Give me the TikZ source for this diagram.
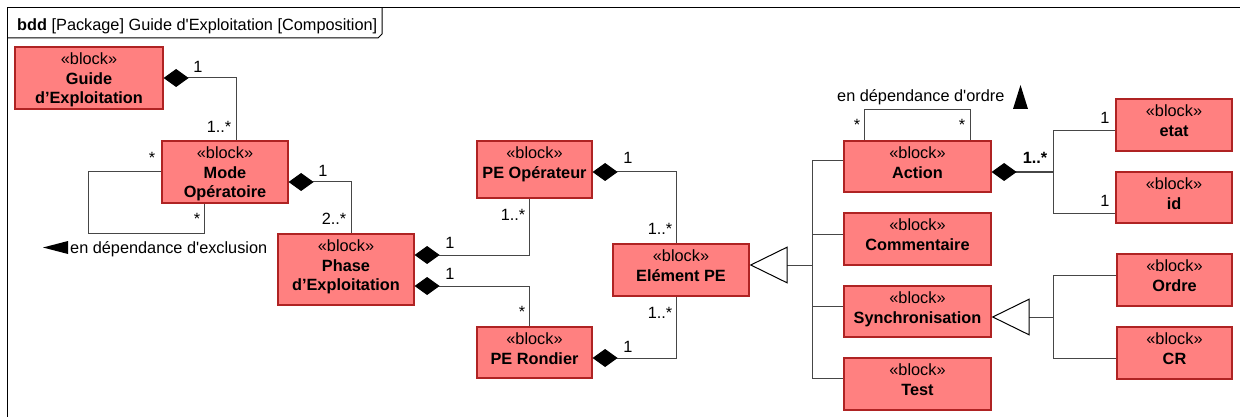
\documentclass[tikz,border=0pt]{standalone}
\usepackage{fontspec}
\newfontfamily\arialf{Liberation Sans}
\usetikzlibrary{arrows.meta,calc}
\definecolor{blkfill}{RGB}{255,128,128}
\definecolor{blkdraw}{RGB}{175,35,35}
\definecolor{connc}{RGB}{70,70,70}
\begin{document}
\begin{tikzpicture}[x=1pt,y=-1pt,
  every node/.style={font={\arialf\fontsize{16.3}{19.5}\selectfont}},
  blk/.style={draw=blkdraw, fill=blkfill, line width=1.2pt, inner sep=0pt},
  blktxt/.style={anchor=north, align=center, inner sep=0pt, yshift=-6.5pt},
  lab/.style={anchor=base, inner sep=0pt},
  conn/.style={draw=connc, line width=1pt},
  comp/.style={conn, {Diamond[length=25pt,width=18pt,color=black]}-},
  gen/.style={conn, -{Triangle[length=38pt,width=37pt,color=black,fill=white,line width=1pt]}},
]
\useasboundingbox (0,0) rectangle (1240,417);
% frame
\draw[line width=1pt] (7,417) -- (7,8) -- (1240,8);
\draw[line width=1pt] (7,38) -- (378,38) -- (382,34) -- (382,8);
\node[anchor=base west, inner sep=0pt] (title) at (17,31) {\textbf{bdd} [Package] Guide d'Exploitation [Composition]};

% blocks
\node[blk, minimum width=148, minimum height=62] (guide) at (89,78) {};
\node[blktxt] (guideT) at (guide.north) {«block»\\\textbf{Guide}\\\textbf{d’Exploitation}};
\node[blk, minimum width=126, minimum height=62] (mode) at (225,172) {};
\node[blktxt] (modeT) at (mode.north) {«block»\\\textbf{Mode}\\\textbf{Opératoire}};
\node[blk, minimum width=136, minimum height=71] (phase) at (346,269.5) {};
\node[blktxt] (phaseT) at (phase.north) {«block»\\\textbf{Phase}\\\textbf{d’Exploitation}};
\node[blk, minimum width=115, minimum height=57] (peop) at (534.5,169.5) {};
\node[blktxt] (peopT) at (peop.north) {«block»\\\textbf{PE Opérateur}};
\node[blk, minimum width=115, minimum height=51] (peron) at (534.5,352.5) {};
\node[blktxt] (peronT) at (peron.north) {«block»\\\textbf{PE Rondier}};
\node[blk, minimum width=136, minimum height=52] (elem) at (681,270) {};
\node[blktxt] (elemT) at (elem.north) {«block»\\\textbf{Elément PE}};
\node[blk, minimum width=147, minimum height=51] (action) at (917.5,166.5) {};
\node[blktxt] (actionT) at (action.north) {«block»\\\textbf{Action}};
\node[blk, minimum width=147, minimum height=52] (comment) at (917.5,239) {};
\node[blktxt] (commentT) at (comment.north) {«block»\\\textbf{Commentaire}};
\node[blk, minimum width=147, minimum height=51] (sync) at (917.5,311.5) {};
\node[blktxt] (syncT) at (sync.north) {«block»\\\textbf{Synchronisation}};
\node[blk, minimum width=147, minimum height=52] (test) at (917.5,384) {};
\node[blktxt] (testT) at (test.north) {«block»\\\textbf{Test}};
\node[blk, minimum width=116, minimum height=52] (etat) at (1174,125) {};
\node[blktxt] (etatT) at (etat.north) {«block»\\\textbf{etat}};
\node[blk, minimum width=116, minimum height=51] (id) at (1174,197.5) {};
\node[blktxt] (idT) at (id.north) {«block»\\\textbf{id}};
\node[blk, minimum width=115, minimum height=52] (ordre) at (1174.5,280) {};
\node[blktxt] (ordreT) at (ordre.north) {«block»\\\textbf{Ordre}};
\node[blk, minimum width=115, minimum height=52] (cr) at (1174.5,353) {};
\node[blktxt] (crT) at (cr.north) {«block»\\\textbf{CR}};

% compositions
\draw[comp] (guide.east) -| ([xshift=11pt]mode.north);
\draw[comp] ([yshift=-10pt]mode.east) -| ([xshift=5pt]phase.north);
\draw[comp] ([yshift=14.5pt]phase.east) -| ([xshift=-5.5pt]peop.south);
\draw[comp] ([yshift=-16.5pt]phase.east) -| ([xshift=-5.5pt]peron.north);
\draw[comp] ([yshift=-2.5pt]peop.east) -| ([xshift=-5pt]elem.north);
\draw[comp] ([yshift=-5.5pt]peron.east) -| ([xshift=-5pt]elem.south);
\coordinate (aj) at (1053,172);
\draw[comp, line width=1.6pt] ([yshift=-5.5pt]action.east) -- (aj);
\draw[conn] (aj) |- ([yshift=-5.7pt]etat.west);
\draw[conn] (aj) |- ([yshift=-15.8pt]id.west);

% self loops
\draw[conn] (mode.west) -| ++(-73,61) -| ([xshift=-21pt]mode.south);
\draw[conn] ([xshift=-53.5pt]action.north) -- ++(0,-31) -| ([xshift=52.5pt]action.north);
\fill (43,247.5) -- (68,241) -- (68,254) -- cycle;
\node[anchor=base west, inner sep=0pt] (exclT) at (70,253) {en dépendance d'exclusion};
\node[anchor=base west, inner sep=0pt] (ordT) at (837,102) {en dépendance d'ordre};
\fill (1013,109) -- (1020.5,85) -- (1028,109) -- cycle;

% generalizations
\coordinate (gj) at (812,265);
\draw[gen] (gj) -- ([yshift=5pt]elem.east);
\draw[conn] ([yshift=5.5pt]action.west) -| (gj);
\draw[conn] ([yshift=5pt]comment.west) -| (gj);
\draw[conn] ([yshift=5.5pt]sync.west) -| (gj);
\draw[conn] ([yshift=6pt]test.west) -| (gj);
\coordinate (sj) at (1053,317);
\draw[gen] (sj) -- ([yshift=-5.5pt]sync.east);
\draw[conn] ([yshift=5pt]ordre.west) -| (sj);
\draw[conn] ([yshift=-5pt]cr.west) -| (sj);

% multiplicities
\node[lab] (m1) at (198,73) {1};
\node[lab] (m2) at (219,133) {1..*};
\node[lab] (m3) at (152,164) {*};
\node[lab] (m4) at (197,224) {*};
\node[lab] (m5) at (323,176) {1};
\node[lab] (m6) at (334,224) {2..*};
\node[lab] (m7) at (450,248) {1};
\node[lab] (m8) at (513,220) {1..*};
\node[lab] (m9) at (450,279) {1};
\node[lab] (m10) at (522,317) {*};
\node[lab] (m11) at (628,164) {1};
\node[lab] (m12) at (660,234) {1..*};
\node[lab] (m13) at (628,352) {1};
\node[lab] (m14) at (660,318) {1..*};
\node[lab] (m15) at (857,131) {*};
\node[lab] (m16) at (962,131) {*};
\node[lab] (m17) at (1035,164) {\textbf{1..*}};
\node[lab] (m18) at (1105,124) {1};
\node[lab] (m19) at (1105,207) {1};
\end{tikzpicture}
\end{document}
